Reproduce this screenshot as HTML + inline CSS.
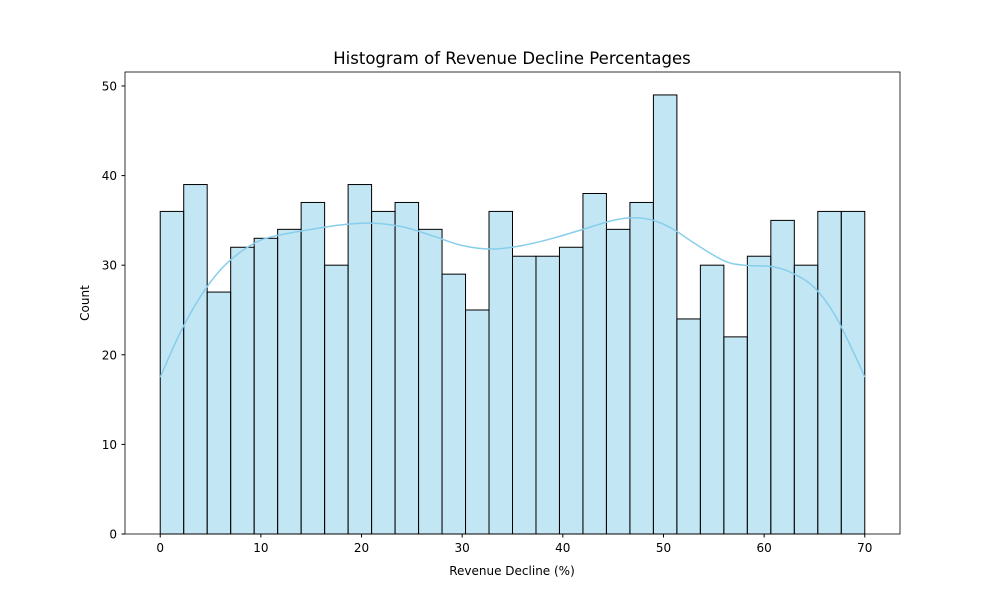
<!DOCTYPE html>
<html><head><meta charset="utf-8"><style>
body{margin:0;background:#fff;}
svg text{font-family:"DejaVu Sans","Liberation Sans",sans-serif;fill:#000;}
</style></head><body>
<svg id="chart" width="1000" height="600" viewBox="0 0 1000 600">
<rect width="1000" height="600" fill="#fff"/>
<g id="bars"></g>
<path id="kde" fill="none" stroke="#87ceeb" stroke-width="1.5"/>
<rect x="125" y="72" width="775" height="462" fill="none" stroke="#000" stroke-width="0.8"/>
<g id="xticks"></g>
<g id="yticks"></g>
<text x="512" y="64" font-size="16.5" text-anchor="middle">Histogram of Revenue Decline Percentages</text>
<text x="512" y="575" font-size="12" text-anchor="middle">Revenue Decline (%)</text>
<text x="89" y="303" font-size="12" text-anchor="middle" transform="rotate(-90 89 303)">Count</text>
</svg>
<script>
const counts=[36,39,27,32,33,34,37,30,39,36,37,34,29,25,36,31,31,32,38,34,37,49,24,30,22,31,35,30,36,36];
const binStart=0, binEnd=70;
const kdeX=[0,2,4,6,8,10,12,15,18,21,24,27,30,33,36,39,42,45,47,49,51,53,56,58,61,63,65,67,69,70];
const kdeY=[17.5,22.5,26.5,29.5,31.5,32.8,33.4,34,34.5,34.7,34.3,33.3,32.2,31.8,32.2,33,34,35,35.3,35,34,32.5,30.5,30,29.8,29,27.5,24.5,20,17.5];
const xTicks=[0,10,20,30,40,50,60,70];
const yTicks=[0,10,20,30,40,50];
const NS="http://www.w3.org/2000/svg";
const X=v=>125+(v+3.5)/77*775;
const Y=v=>534-v/51.56*462;
const bars=document.getElementById('bars');
const w=(binEnd-binStart)/counts.length;
counts.forEach((c,i)=>{
 const r=document.createElementNS(NS,'rect');
 const x0=X(binStart+i*w),x1=X(binStart+(i+1)*w);
 r.setAttribute('x',x0);r.setAttribute('width',x1-x0);
 r.setAttribute('y',Y(c));r.setAttribute('height',Y(0)-Y(c));
 r.setAttribute('fill','rgba(135,206,235,0.5)');r.setAttribute('stroke','#000');r.setAttribute('stroke-width','1');
 
 
 bars.appendChild(r);
});
const pts=kdeX.map((x,i)=>[X(x),Y(kdeY[i])]);
let d='M'+pts[0][0]+','+pts[0][1];
for(let i=0;i<pts.length-1;i++){
 const p0=pts[Math.max(0,i-1)],p1=pts[i],p2=pts[i+1],p3=pts[Math.min(pts.length-1,i+2)];
 d+=' C'+(p1[0]+(p2[0]-p0[0])/6)+','+(p1[1]+(p2[1]-p0[1])/6)+' '+(p2[0]-(p3[0]-p1[0])/6)+','+(p2[1]-(p3[1]-p1[1])/6)+' '+p2[0]+','+p2[1];
}
document.getElementById('kde').setAttribute('d',d);
const xg=document.getElementById('xticks');
xTicks.forEach(t=>{
 const l=document.createElementNS(NS,'line');
 l.setAttribute('x1',X(t));l.setAttribute('x2',X(t));l.setAttribute('y1',534);l.setAttribute('y2',537.5);l.setAttribute('stroke','#000');
 
 
 xg.appendChild(l);
 const tx=document.createElementNS(NS,'text');
 tx.setAttribute('x',X(t));tx.setAttribute('y',552);tx.setAttribute('font-size','12');tx.setAttribute('text-anchor','middle');
 tx.textContent=t;
 
 
 xg.appendChild(tx);
});
const yg=document.getElementById('yticks');
yTicks.forEach(t=>{
 const l=document.createElementNS(NS,'line');
 l.setAttribute('x1',121.5);l.setAttribute('x2',125);l.setAttribute('y1',Y(t));l.setAttribute('y2',Y(t));l.setAttribute('stroke','#000');
 
 
 yg.appendChild(l);
 const tx=document.createElementNS(NS,'text');
 tx.setAttribute('x',117);tx.setAttribute('y',Y(t)+4.5);tx.setAttribute('font-size','12');tx.setAttribute('text-anchor','end');
 tx.textContent=t;
 
 
 yg.appendChild(tx);
});
</script>
</body></html>
